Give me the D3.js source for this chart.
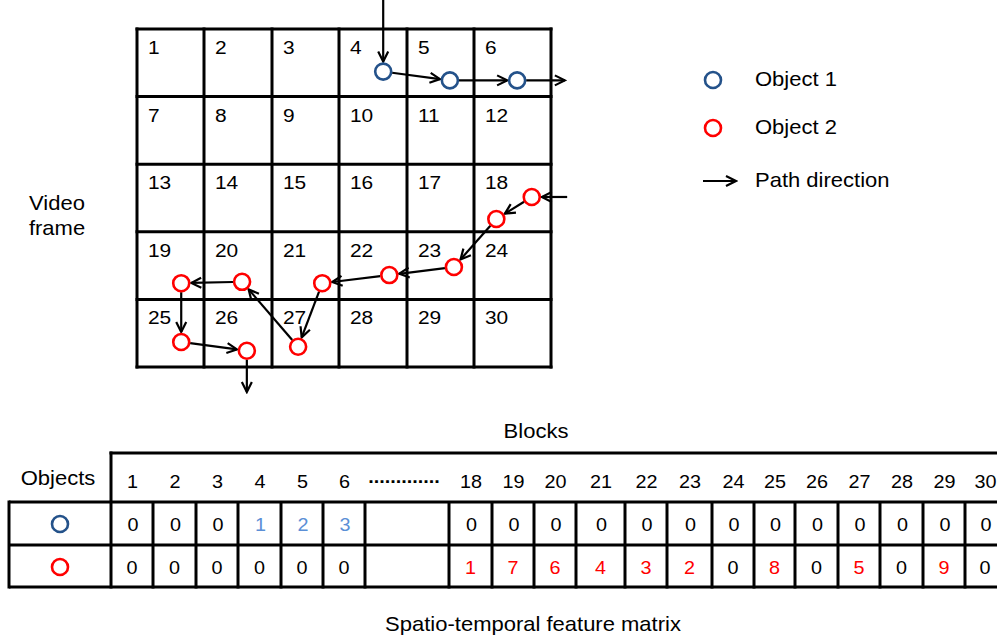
<!DOCTYPE html>
<html>
<head>
<meta charset="utf-8">
<script src="https://cdn.jsdelivr.net/npm/d3@7"></script>
<style>
  html, body { margin: 0; padding: 0; background: #fff; }
  svg { display: block; font-family: "Liberation Sans", Arial, Helvetica, sans-serif; }
</style>
</head>
<body>
<svg id="chart" width="997" height="641"></svg>
<script>
// ---------------- DATA ----------------
const gridBlocks = ["1","2","3","4","5","6","7","8","9","10","11","12","13","14","15",
                    "16","17","18","19","20","21","22","23","24","25","26","27","28","29","30"];

// object positions in grid units (column, row)
const object1Path  = [[3.65, 0.63], [4.64, 0.76], [5.56, 0.76]];
const object1Entry = [3.65, -0.43];
const object1Exit  = [6.18, 0.76];

const object2Path  = [[5.75, 2.485], [5.29, 2.81], [4.70, 3.52], [3.74, 3.64], [2.75, 3.76],
                      [2.39, 4.70], [1.56, 3.74], [0.66, 3.76], [0.66, 4.63], [1.63, 4.76]];
const object2Entry = [6.21, 2.485];
const object2Exit  = [1.63, 5.37];

const legendItems = ["Object 1", "Object 2", "Path direction"];

const blockLabels = ["1","2","3","4","5","6",".............","18","19","20","21","22","23",
                     "24","25","26","27","28","29","30"];
const object1Row = [0,0,0,1,2,3,null,0,0,0,0,0,0,0,0,0,0,0,0,0];
const object2Row = [0,0,0,0,0,0,null,1,7,6,4,3,2,0,8,0,5,0,9,0];

// ---------------- LAYOUT ----------------
const COL1 = "#24528a", COL2 = "#ff0000", VAL1 = "#5b8fd6";
const svg = d3.select("#chart");
const SX = 1.1; // horizontal stretch of the reference's lettering

function label(g, x, y, txt, size, anchor) {
  return g.append("text")
    .attr("transform", `translate(${x},${y}) scale(${SX},1)`)
    .attr("text-anchor", anchor || "start")
    .attr("font-size", size).attr("fill", "#000").text(txt);
}

const gx = d3.scaleLinear().domain(d3.range(7)).range([137, 204, 272, 339, 407, 474, 551]);
const gy = d3.scaleLinear().domain([0, 5]).range([29, 367]);

const defs = svg.append("defs");
defs.append("marker")
  .attr("id", "ah").attr("markerUnits", "userSpaceOnUse")
  .attr("markerWidth", 14).attr("markerHeight", 14)
  .attr("viewBox", "-1 -1 14 14").attr("refX", 11).attr("refY", 6)
  .attr("orient", "auto")
  .append("path").attr("d", "M1,1 L11,6 L1,11")
  .attr("fill", "none").attr("stroke", "#000").attr("stroke-width", 2.2);

// grid
const gridG = svg.append("g");
gridG.selectAll("line.v").data(d3.range(7)).join("line")
  .attr("x1", d => gx(d)).attr("x2", d => gx(d))
  .attr("y1", gy(0) - 1.5).attr("y2", gy(5) + 1.5)
  .attr("stroke", "#000").attr("stroke-width", 3);
gridG.selectAll("line.h").data(d3.range(6)).join("line")
  .attr("x1", gx(0) - 1.5).attr("x2", gx(6) + 1.5)
  .attr("y1", d => gy(d)).attr("y2", d => gy(d))
  .attr("stroke", "#000").attr("stroke-width", 3);
gridBlocks.forEach((d, i) =>
  label(gridG, gx(i % 6) + 11, gy(Math.floor(i / 6)) + 25, d, 19));

// arrows
const R = 8;
function arrow(g, a, b, shrinkStart, shrinkEnd) {
  const dx = b[0] - a[0], dy = b[1] - a[1], L = Math.hypot(dx, dy);
  const ux = dx / L, uy = dy / L;
  g.append("line")
    .attr("x1", a[0] + ux * shrinkStart).attr("y1", a[1] + uy * shrinkStart)
    .attr("x2", b[0] - ux * shrinkEnd).attr("y2", b[1] - uy * shrinkEnd)
    .attr("stroke", "#000").attr("stroke-width", 2.2)
    .attr("marker-end", "url(#ah)");
}
function drawObject(path, entry, exit, color) {
  const g = svg.append("g");
  const pts = path.map(p => [gx(p[0]), gy(p[1])]);
  const ent = [gx(entry[0]), gy(entry[1])];
  const ex = [gx(exit[0]), gy(exit[1])];
  arrow(g, ent, pts[0], 0, R + 2);
  for (let i = 0; i < pts.length - 1; i++) arrow(g, pts[i], pts[i + 1], R + 1, R + 2);
  arrow(g, pts[pts.length - 1], ex, R + 1, 0);
  g.selectAll("circle").data(pts).join("circle")
    .attr("cx", d => d[0]).attr("cy", d => d[1]).attr("r", R)
    .attr("fill", "#fff").attr("stroke", color).attr("stroke-width", 2.6);
}
drawObject(object1Path, object1Entry, object1Exit, COL1);
drawObject(object2Path, object2Entry, object2Exit, COL2);

// Video frame label
label(svg, 57, 210, "Video", 20, "middle");
label(svg, 57, 235, "frame", 20, "middle");

// legend
const lg = svg.append("g");
const legY = [80, 128, 181];
lg.append("circle").attr("cx", 713).attr("cy", legY[0]).attr("r", R)
  .attr("fill", "#fff").attr("stroke", COL1).attr("stroke-width", 2.6);
lg.append("circle").attr("cx", 713).attr("cy", legY[1]).attr("r", R)
  .attr("fill", "#fff").attr("stroke", COL2).attr("stroke-width", 2.6);
arrow(lg, [703, legY[2]], [736, legY[2]], 0, 0);
legendItems.forEach((d, i) => label(lg, 755, legY[i] + 6, d, 20));

// ---------------- TABLE ----------------
const tEdges = [111,153,196,238,281,323,365,449,492,534,576,625,667,712,754,795,838,880,923,965,1005];
const tx = d3.scaleLinear().domain(d3.range(tEdges.length)).range(tEdges);
const tc = i => (tx(i) + tx(i + 1)) / 2;
const tY = { top: 453, r1: 502, r2: 545, bottom: 587 };
const tg = svg.append("g");
const hl = (x1, x2, y) => tg.append("line").attr("x1", x1).attr("x2", x2).attr("y1", y).attr("y2", y)
  .attr("stroke", "#000").attr("stroke-width", 3);
const vl = (x, y1, y2) => tg.append("line").attr("x1", x).attr("x2", x).attr("y1", y1).attr("y2", y2)
  .attr("stroke", "#000").attr("stroke-width", 3);
hl(tx(0) - 1.5, 997, tY.top);
hl(9, 997, tY.r1);
hl(9, 997, tY.r2);
hl(9, 997, tY.bottom);
vl(tx(0), tY.top - 1.5, tY.bottom + 1.5);
vl(9, tY.r1 - 1.5, tY.bottom + 1.5);
d3.range(1, tEdges.length - 1).forEach(i => vl(tx(i), tY.r1, tY.bottom + 1.5));

label(svg, 536, 438, "Blocks", 20, "middle");
label(svg, 58, 485, "Objects", 20, "middle");

blockLabels.forEach((d, i) => {
  const dots = d.startsWith(".");
  const t = label(tg, dots ? tc(i) - 3 : tc(i) + 0.5, dots ? 483 : 488, d, 18, "middle");
  if (dots) t.attr("font-weight", "bold");
});

tg.append("circle").attr("cx", 60).attr("cy", 524).attr("r", R)
  .attr("fill", "#fff").attr("stroke", COL1).attr("stroke-width", 2.6);
tg.append("circle").attr("cx", 60).attr("cy", 567).attr("r", R)
  .attr("fill", "#fff").attr("stroke", COL2).attr("stroke-width", 2.6);

object1Row.forEach((d, i) => {
  if (d === null) return;
  label(tg, tc(i) + 1, 531, d, 18, "middle").attr("fill", d ? VAL1 : "#000");
});
object2Row.forEach((d, i) => {
  if (d === null) return;
  label(tg, tc(i), 574, d, 18, "middle").attr("fill", d ? COL2 : "#000");
});

label(svg, 533, 631, "Spatio-temporal feature matrix", 20, "middle");
</script>
</body>
</html>
